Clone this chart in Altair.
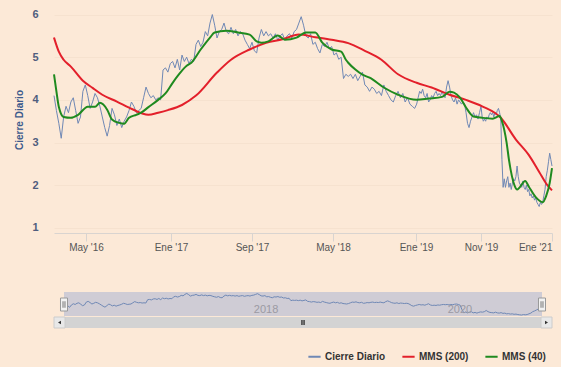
import altair as alt
import pandas as pd

# ---------------- data ----------------
start_date = "2016-01-29"          # first weekly observation
close = [
    4.1, 3.75, 3.45, 3.1, 3.6, 3.85, 3.7, 3.95, 4.05, 3.75, 3.45, 3.6, 4.2, 4.35,
    4.1, 3.8, 3.95, 4.15, 4.05, 3.85, 3.6, 3.35, 3.15, 3.4, 3.8, 3.65, 3.4, 3.55, 3.35,
    3.5, 3.6, 3.75, 3.95, 3.85, 3.7, 3.75, 3.8, 4.05, 4.3, 4.15, 4.05, 4.1, 4.0, 4.05,
    4.0, 4.7, 4.75, 4.65, 4.85,
    4.9, 4.75, 4.95, 4.7, 5.05, 4.9, 5.0, 4.85, 4.95, 4.9, 5.3, 5.4, 5.25, 5.35, 5.6,
    5.5, 5.8, 6.0, 5.75, 5.45, 5.6, 5.65, 5.8, 5.6, 5.55, 5.7, 5.55, 5.65, 5.5, 5.6,
    5.55, 5.4, 5.3, 5.2, 5.35,
    5.15, 5.1, 5.45, 5.65, 5.5, 5.6, 5.5, 5.55, 5.45, 5.55, 5.4, 5.5, 5.55, 5.4, 5.5,
    5.55, 5.45, 5.6, 5.65, 5.8, 5.95, 5.75, 5.5, 5.45, 5.55, 5.3, 5.35, 5.2, 5.1, 5.3,
    5.25, 5.35, 5.2, 5.25,
    5.05, 5.1, 4.95, 5.0, 4.5, 4.6, 4.55, 4.6, 4.5, 4.6, 4.45, 4.55, 4.65, 4.35, 4.3,
    4.2, 4.3, 4.25, 4.15, 4.2, 4.1, 4.35, 4.2, 4.1, 4.0, 3.95, 4.1, 4.2, 4.05, 4.15,
    3.95, 4.05, 3.9, 3.85, 3.8,
    3.9, 4.05, 4.2, 4.15, 4.25, 4.1, 4.05, 4.15, 3.95, 4.0, 4.1, 4.05, 4.15, 4.2, 4.1,
    4.15, 4.1, 4.2, 4.1, 4.05, 4.3, 4.45, 4.3, 4.1, 4.0, 3.95, 4.05, 3.9, 4.0, 3.95,
    3.9, 3.95, 3.9, 3.7, 3.45, 3.35, 3.5, 3.6, 3.7, 3.6, 3.65, 3.55, 3.7, 3.85,
    3.6, 3.5, 3.55, 3.5, 3.6, 3.55, 3.65, 3.7, 3.65, 3.7, 3.6, 3.7, 3.65, 3.75, 3.8,
    3.7, 3.55, 2.6, 1.95, 2.15, 1.95, 2.1, 2.2, 1.95, 2.05, 1.9, 2.05, 2.15, 2.1, 2.2,
    2.45, 2.2, 2.05, 2.0, 1.95, 2.1, 1.95, 1.9, 2.0, 1.85, 1.9, 1.75, 1.8, 1.7, 1.75,
    1.65, 1.7, 1.6, 1.55, 1.5, 1.6, 1.55, 1.6, 1.75, 1.9, 2.2, 2.35, 2.55, 2.75, 2.6,
    2.45,
]
# moving averages: index into the weekly dates, and value
ma200_idx = [0, 2, 4, 7, 12, 16, 20, 26, 31, 36, 39, 43, 47, 53, 59, 68, 74, 82, 89,
             96, 103, 110, 117, 124, 131, 138, 145, 153, 163, 175, 186, 197, 213, 226,
             237, 246, 253, 257]
ma200 = [5.46, 5.13, 4.94, 4.78, 4.45, 4.28, 4.12, 3.96, 3.82, 3.69, 3.65, 3.7, 3.76,
         3.88, 4.1, 4.64, 4.94, 5.18, 5.34, 5.42, 5.53, 5.47, 5.41, 5.33, 5.15, 4.94,
         4.6, 4.4, 4.29, 4.12, 4.0, 3.85, 3.58, 3.07, 2.71, 2.31, 2.0, 1.88]
ma40_idx = [0, 1, 2, 4, 7, 10, 14, 17, 19, 22, 24, 27, 29, 31, 34, 36, 39, 43, 46, 49,
            52, 55, 57, 61, 65, 67, 72, 77, 82, 85, 87, 90, 94, 97, 102, 106, 110, 113,
            117, 121, 123, 124, 127, 130, 133, 139, 145, 153, 161, 170, 175, 178, 182,
            186, 191, 197, 206, 212, 214, 218, 220, 225, 227, 234, 237, 243, 249, 252,
            255, 257]
ma40 = [4.6, 4.2, 3.84, 3.6, 3.58, 3.65, 3.84, 3.84, 3.93, 3.77, 3.54, 3.46, 3.44, 3.58,
        3.65, 3.7, 3.83, 4.0, 4.15, 4.4, 4.62, 4.8, 4.87, 5.18, 5.46, 5.58, 5.62, 5.58,
        5.53, 5.37, 5.34, 5.37, 5.51, 5.41, 5.46, 5.58, 5.58, 5.34, 5.18, 5.13, 4.94,
        4.87, 4.71, 4.59, 4.52, 4.29, 4.12, 4.0, 4.03, 4.07, 4.19, 4.17, 4.05, 3.82,
        3.61, 3.58, 3.56, 3.62, 3.5, 3.0, 2.6, 1.98, 1.9, 2.1, 1.97, 1.72, 1.6, 1.75,
        2.05, 2.4]

series_names = ["Cierre Diario", "MMS (200)", "MMS (40)"]
series_colors = ["#6f88b5", "#e3202b", "#1f8a1f"]
tick_dates = ["2016-05-01", "2017-01-01", "2017-09-01", "2018-05-01",
              "2019-01-01", "2019-11-01", "2021-01-01"]
nav_year_dates = ["2018-01-01", "2020-01-01"]
nav_year_labels = ["2018", "2020"]

# ---------------- tables ----------------
dates = pd.date_range(start_date, periods=len(close), freq="7D")
ds = [d.strftime("%Y-%m-%d") for d in dates]


def ms(s):
    return int(pd.Timestamp(s).value // 10**6)


t_ms = [ms(s) for s in ds]
df_close = pd.DataFrame({"t": t_ms, "date": ds, "value": close, "series": series_names[0]})
df_200 = pd.DataFrame({"t": [t_ms[i] for i in ma200_idx], "value": ma200,
                       "series": series_names[1]})
df_40 = pd.DataFrame({"t": [t_ms[i] for i in ma40_idx], "value": ma40,
                      "series": series_names[2]})


def dt(s):
    y, m, d = map(int, s.split("-"))
    return alt.DateTime(year=y, month=m, date=d, utc=True)


FONT = "Liberation Sans"
BG = "#fce9d7"

# main chart: ordinal-like time axis (2019-2020 compressed) via piecewise scale
x_main = alt.Scale(type="linear", domain=[ms(s) for s in [start_date] + tick_dates],
                   range=[0, 32, 117, 198, 279, 362, 427, 498], nice=False, zero=False)
y_main = alt.Scale(domain=[0.88, 6.2], nice=False, zero=False)

x_axis = alt.Axis(
    values=[ms(s) for s in tick_dates],
    labelExpr="substring('EneFebMarAbrMayJunJulAgoSepOctNovDic', utcmonth(datum.value)*3, "
              "utcmonth(datum.value)*3+3) + \" '\" + utcFormat(datum.value, '%y')",
    grid=False, domainColor="#d9d4d0", tickColor="#d9d4d0", tickSize=8,
    labelPadding=1, labelFont=FONT, labelFontSize=10, labelColor="#555555",
    title=None, labelOverlap=False,
)
y_axis = alt.Axis(
    values=[1, 2, 3, 4, 5, 6], format="d", title="Cierre Diario",
    titleFont=FONT, titleFontSize=10, titleFontWeight="bold", titleColor="#3c5a8c",
    titlePadding=7, labelFont=FONT, labelFontSize=11, labelFontWeight="bold",
    labelColor="#4f5d7e", labelPadding=16, ticks=False, domain=False,
    grid=True, gridColor="#f6e2cf",
)
legend = alt.Legend(
    orient="none", legendX=253, legendY=343, direction="horizontal", title=None,
    symbolType="stroke", symbolStrokeWidth=2, symbolSize=150,
    labelFont=FONT, labelFontSize=10, labelFontWeight="bold", labelColor="#333333",
    columnPadding=12, labelOffset=3, padding=0,
)
color = alt.Color("series:N", scale=alt.Scale(domain=series_names, range=series_colors),
                  legend=legend)

close_layer = alt.Chart(df_close).mark_line(strokeWidth=1).encode(
    x=alt.X("t:Q", scale=x_main, axis=x_axis),
    y=alt.Y("value:Q", scale=y_main, axis=y_axis),
    color=color,
)
ma200_layer = alt.Chart(df_200).mark_line(strokeWidth=2, interpolate="monotone").encode(
    x="t:Q", y="value:Q", color=color)
ma40_layer = alt.Chart(df_40).mark_line(strokeWidth=2, interpolate="monotone").encode(
    x="t:Q", y="value:Q", color=color)

main = alt.layer(close_layer, ma200_layer, ma40_layer).properties(width=498, height=227)

# navigator (linear time)
x_nav = alt.Scale(type="utc", domain=[dt(ds[0]), dt(ds[-1])], range=[10, 488])
y_nav = alt.Scale(domain=[1.3, 6.3], range=[24, 0], nice=False, zero=False)
df_range = pd.DataFrame({"start": [ds[0]], "end": [ds[-1]]})
df_years = pd.DataFrame({"date": nav_year_dates, "label": nav_year_labels})
df_handles = pd.DataFrame({"date": [ds[0], ds[-1]]})
one = pd.DataFrame({"a": [0]})

track = alt.Chart(one).mark_rect(fill="#dcdcdc").encode(
    x=alt.value(0), x2=alt.value(498), y=alt.value(25), y2=alt.value(36))
mask = alt.Chart(df_range).mark_rect(fill="#cfccd5").encode(
    x=alt.X("start:T", scale=x_nav, axis=None), x2="end:T",
    y=alt.value(0), y2=alt.value(24))
thumb = alt.Chart(df_range).mark_rect(fill="#d3d3d3").encode(
    x=alt.X("start:T", scale=x_nav, axis=None), x2="end:T",
    y=alt.value(25), y2=alt.value(36))
nav_line = alt.Chart(df_close).mark_line(strokeWidth=1, color=series_colors[0]).encode(
    x=alt.X("date:T", scale=x_nav, axis=None),
    y=alt.Y("value:Q", scale=y_nav, axis=None))
years = alt.Chart(df_years).mark_text(align="left", dx=3, baseline="middle",
                                      font=FONT, fontSize=11, color="#9b9aa3").encode(
    x=alt.X("date:T", scale=x_nav, axis=None), y=alt.value(18), text="label:N")
handles = alt.Chart(df_handles).mark_point(
    shape="M-0.54,-1L0.54,-1L0.54,1L-0.54,1Z", size=169, filled=True,
    fill="#f2f2f2", stroke="#999999", strokeWidth=1, opacity=1).encode(
    x=alt.X("date:T", scale=x_nav, axis=None), y=alt.value(12.5))
grips = alt.Chart(df_handles).mark_point(
    shape="M-0.15,-0.5L-0.15,0.5M0.15,-0.5L0.15,0.5", size=169, filled=False,
    stroke="#777777", strokeWidth=1, opacity=1).encode(
    x=alt.X("date:T", scale=x_nav, axis=None), y=alt.value(12.5))
btn_l = alt.Chart(one).mark_rect(fill="#e8e8e8", stroke="#cccccc").encode(
    x=alt.value(0), x2=alt.value(11), y=alt.value(25), y2=alt.value(36))
btn_r = alt.Chart(one).mark_rect(fill="#e8e8e8", stroke="#cccccc").encode(
    x=alt.value(487), x2=alt.value(498), y=alt.value(25), y2=alt.value(36))
arr_l = alt.Chart(one).mark_point(shape="triangle-left", size=12, filled=True,
                                  color="#333333", opacity=1).encode(
    x=alt.value(5.5), y=alt.value(30.5))
arr_r = alt.Chart(one).mark_point(shape="triangle-right", size=12, filled=True,
                                  color="#333333", opacity=1).encode(
    x=alt.value(492.5), y=alt.value(30.5))
grip_bar = alt.Chart(one).mark_point(
    shape="M-0.5,-1L-0.5,1M0,-1L0,1M0.5,-1L0.5,1", size=25, filled=False,
    stroke="#333333", strokeWidth=1, opacity=1).encode(
    x=alt.value(249), y=alt.value(30.5))

nav = alt.layer(track, mask, thumb, nav_line, years, handles, grips,
                btn_l, btn_r, arr_l, arr_r, grip_bar).properties(width=498, height=36)

chart = (
    alt.vconcat(main, nav, spacing=59, bounds="flush")
    .resolve_scale(x="independent", y="independent", color="independent")
    .resolve_legend(color="independent")
    .configure(background=BG, padding={"left": 14, "top": 6, "right": 5, "bottom": 5})
    .configure_view(stroke=None)
)

chart.save("out.html", embed_options={"renderer": "svg", "actions": False})
